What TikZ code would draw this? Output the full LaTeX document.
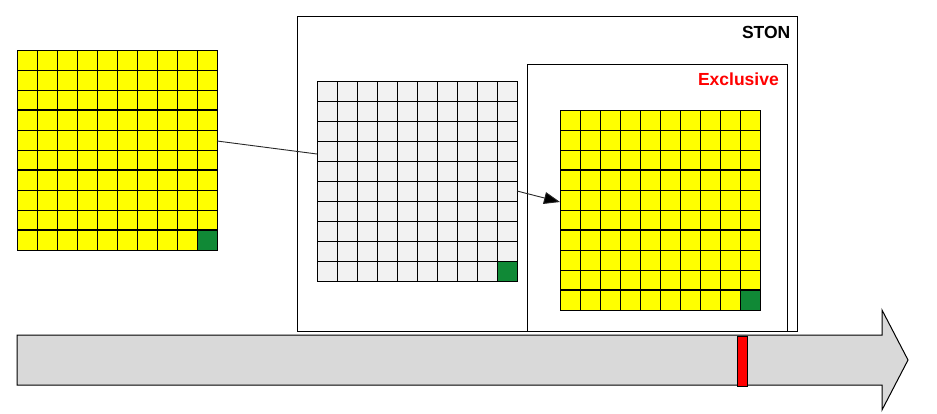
\documentclass[tikz,border=0pt]{standalone}
\usepackage{fontspec}
\setmainfont{Liberation Sans}
\usepackage{tikz}
\usetikzlibrary{
    arrows.meta,
    positioning,
    calc
}
\usepackage{xcolor}
\definecolor{cellyellow}{RGB}{255,255,0}
\definecolor{cellgray}{RGB}{242,242,242}
\definecolor{cellgreen}{RGB}{16,137,54}
\definecolor{timefill}{RGB}{217,217,217}
\definecolor{linkgray}{RGB}{40,40,40}

\begin{document}
\begin{tikzpicture}[
    x=1pt, y=-1pt,
    gridframe/.style={rectangle, minimum width=200pt, minimum height=200pt, inner sep=0pt, outer sep=0pt},
    cell/.style={draw=black, line width=0.9pt},
    rowsep/.style={draw=black, line width=2pt},
    panel/.style={rectangle, draw=black, line width=1pt, fill=white, inner sep=0pt, outer sep=0pt},
    tag/.style={font=\fontsize{17.5}{20}\selectfont\bfseries, inner sep=0pt},
    link/.style={draw=linkgray, line width=0.9pt},
    arrow/.style={link, -{Triangle[length=16pt, width=12pt, fill=black]}}
]
\useasboundingbox (0,0) rectangle (937,414);

% Time line
\draw[fill=timefill, line width=1pt] (17,335) -- (882,335) -- (882,310) -- (908,360)
    -- (882,410) -- (882,385) -- (17,385) -- cycle;
\node[rectangle, draw=black, fill=red, line width=1pt, minimum width=10pt, minimum height=50pt,
    inner sep=0pt] (marker) at (742,361) {};

% Panels
\node[panel, minimum width=500pt, minimum height=314pt] (ston) at (547,174) {};
\node[panel, minimum width=260pt, minimum height=266pt] (excl) at (657,198) {};
\node[tag, anchor=north east] (stonlbl) at ([xshift=-6.5pt, yshift=-9pt]ston.north east) {STON};
\node[tag, text=red, anchor=north east] (excllbl)
    at ([xshift=-8pt, yshift=-8pt]excl.north east) {Exclusive};

% Grids
\node[gridframe] (src) at (117,150) {};
\node[gridframe] (mid) at (417,181) {};
\node[gridframe] (dst) at (660,210) {};

% Source grid
\begin{scope}[shift={(src.north west)}]
\foreach \r in {0,...,9} {
    \foreach \c in {0,...,9} {
        \draw[cell, fill=cellyellow] (\c*20,\r*20) rectangle ++(20,20);
    }
}
\draw[cell, fill=cellgreen] (180,180) rectangle ++(20,20);
\foreach \r in {3,6,9} {
    \draw[rowsep] (0,\r*20) -- (200,\r*20);
}
\end{scope}

% Middle grid
\begin{scope}[shift={(mid.north west)}]
\foreach \r in {0,...,9} {
    \foreach \c in {0,...,9} {
        \draw[cell, fill=cellgray] (\c*20,\r*20) rectangle ++(20,20);
    }
}
\draw[cell, fill=cellgreen] (180,180) rectangle ++(20,20);
\end{scope}

% Exclusive grid
\begin{scope}[shift={(dst.north west)}]
\foreach \r in {0,...,9} {
    \foreach \c in {0,...,9} {
        \draw[cell, fill=cellyellow] (\c*20,\r*20) rectangle ++(20,20);
    }
}
\draw[cell, fill=cellgreen] (180,180) rectangle ++(20,20);
\foreach \r in {3,6,9} {
    \draw[rowsep] (0,\r*20) -- (200,\r*20);
}
\end{scope}

% Links
\draw[link] ($(src.north east)!0.455!(src.south east)$) -- ($(mid.north west)!0.365!(mid.south west)$);
\draw[arrow] ($(mid.north east)!0.55!(mid.south east)$) -- ($(dst.north west)!0.46!(dst.south west)$);

\end{tikzpicture}
\end{document}
